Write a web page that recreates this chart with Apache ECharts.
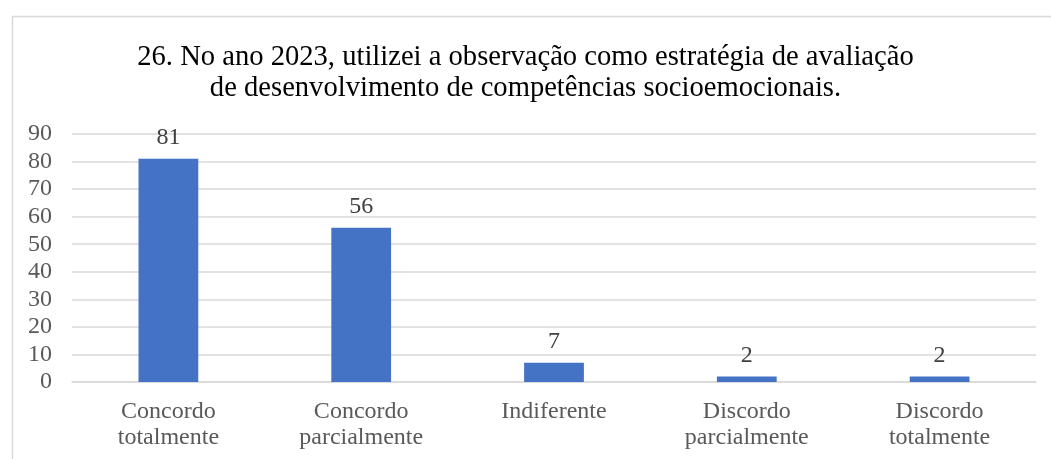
<!DOCTYPE html>
<html><head><meta charset="utf-8">
<script src="https://cdn.jsdelivr.net/npm/echarts@6/dist/echarts.min.js"></script>
<style>html,body{margin:0;padding:0;background:#fff}#c{width:1051px;height:459px}</style>
</head><body><div id="c"></div>
<script>
const titleText = "26. No ano 2023, utilizei a observação como estratégia de avaliação\nde desenvolvimento de competências socioemocionais.";
const categories = ["Concordo\ntotalmente", "Concordo\nparcialmente", "Indiferente", "Discordo\nparcialmente", "Discordo\ntotalmente"];
const values = [81, 56, 7, 2, 2];
const yTicks = [0, 10, 20, 30, 40, 50, 60, 70, 80, 90];

const font = "'Liberation Serif', 'Times New Roman', serif";
const chart = echarts.init(document.getElementById('c'), null, {renderer: 'canvas'});
chart.setOption({
  animation: false,
  backgroundColor: '#fff',
  graphic: [{
    type: 'rect', left: 10, top: 14,
    shape: {width: 1100, height: 500},
    style: {fill: 'none', stroke: '#d9d9d9', lineWidth: 1.5}, silent: true
  }],
  title: {
    text: titleText, left: 'center', top: 37,
    textStyle: {fontFamily: font, fontSize: 28.6, fontWeight: 'normal', color: '#000', lineHeight: 31}
  },
  grid: {left: 72, right: 15, top: 134, bottom: 77, containLabel: false},
  xAxis: {
    type: 'category', data: categories,
    axisLine: {show: true, lineStyle: {color: '#d9d9d9', width: 1.5}},
    axisTick: {show: false},
    axisLabel: {fontFamily: font, fontSize: 24, color: '#595959', lineHeight: 26, margin: 17, interval: 0}
  },
  yAxis: {
    type: 'value', min: yTicks[0], max: yTicks[yTicks.length - 1], interval: 10,
    axisLine: {show: false}, axisTick: {show: false},
    splitLine: {lineStyle: {color: '#d9d9d9', width: 1.5}},
    axisLabel: {fontFamily: font, fontSize: 24, color: '#595959', margin: 20}
  },
  series: [{
    type: 'bar', data: values, barWidth: '31%',
    itemStyle: {color: '#4472C4'},
    label: {show: true, position: 'top', distance: 9, fontFamily: font, fontSize: 24, color: '#404040'}
  }]
});
</script></body></html>
